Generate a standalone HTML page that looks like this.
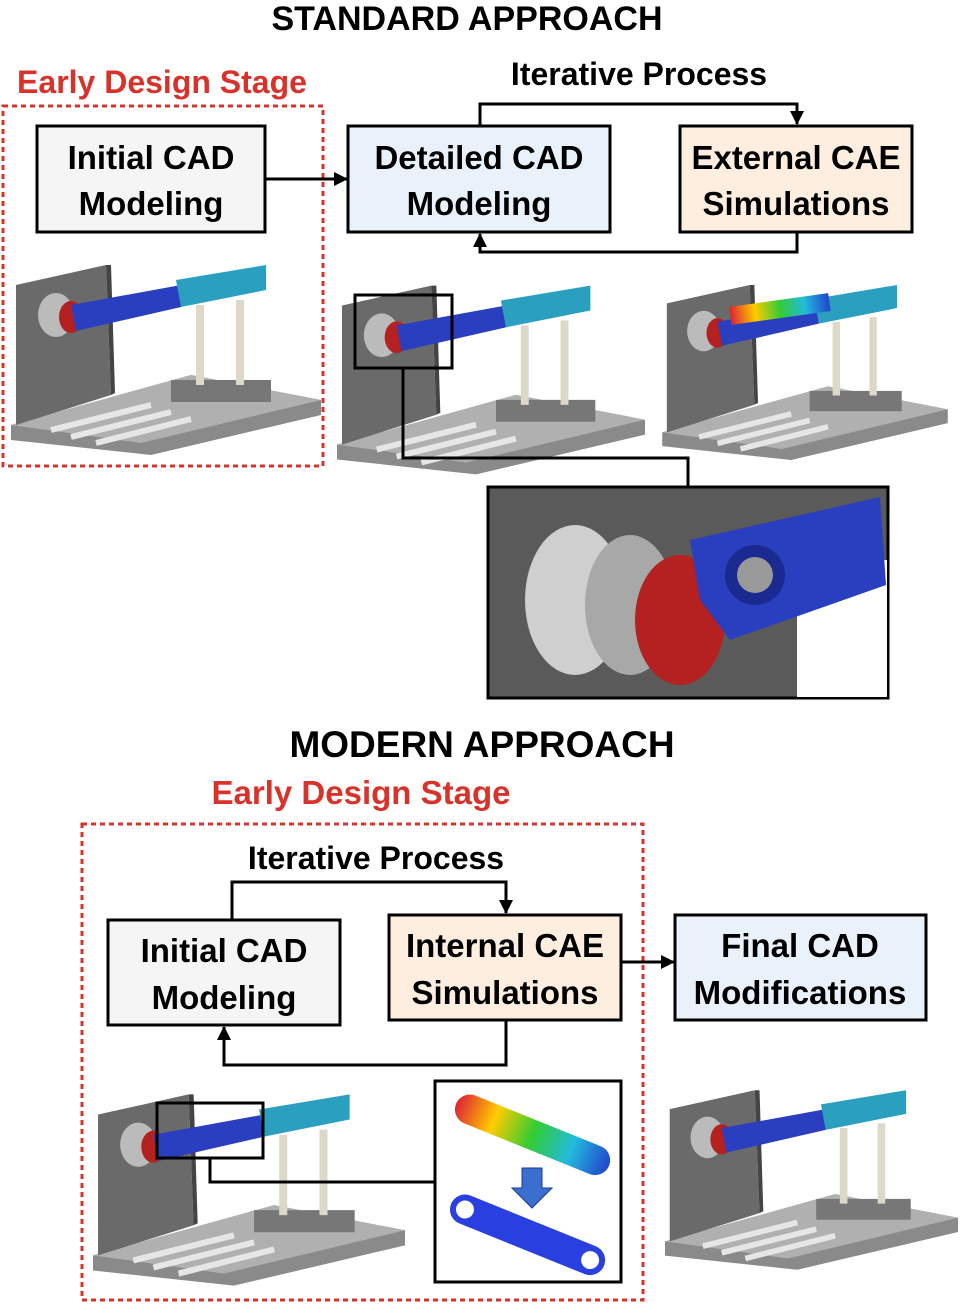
<!DOCTYPE html>
<html><head><meta charset="utf-8"><style>
body{margin:0;background:#fff;}
svg text{font-family:"Liberation Sans",sans-serif;font-weight:bold;}
</style></head><body>
<svg width="965" height="1303" viewBox="0 0 965 1303" xmlns="http://www.w3.org/2000/svg">
<defs>
<marker id="ar" markerWidth="8" markerHeight="8" refX="7" refY="4" orient="auto" markerUnits="userSpaceOnUse"><path d="M0,0 L8,4 L0,8 z" fill="#000"/></marker>
<marker id="ar2" markerWidth="14" markerHeight="14" refX="13" refY="7" orient="auto" markerUnits="userSpaceOnUse"><path d="M0,0 L14,7 L0,14 z" fill="#000"/></marker>
<linearGradient id="rb" x1="0" y1="0" x2="1" y2="0"><stop offset="0" stop-color="#d23"/><stop offset="0.25" stop-color="#fc0"/><stop offset="0.5" stop-color="#3c3"/><stop offset="0.75" stop-color="#2bd"/><stop offset="1" stop-color="#24c"/></linearGradient>
<symbol id="rig" viewBox="0 0 310 190">
<polygon points="0,160 180,110 310,135 310,150 140,190 0,175" fill="#8a8a8a"/>
<polygon points="0,160 180,110 310,135 130,178" fill="#b0b0b0"/>
<g stroke="#e6e6e6" stroke-width="6"><line x1="40" y1="165" x2="140" y2="140"/><line x1="60" y1="172" x2="160" y2="147"/><line x1="85" y1="178" x2="180" y2="154"/></g>
<polygon points="5,20 95,0 100,130 5,160" fill="#6a6a6a"/>
<polygon points="95,0 100,0 104,128 100,130" fill="#444"/>
<rect x="160" y="115" width="100" height="22" fill="#777"/>
<rect x="185" y="40" width="8" height="80" fill="#ddd8c8"/><rect x="225" y="35" width="8" height="85" fill="#ddd8c8"/>
<ellipse cx="45" cy="50" rx="18" ry="22" fill="#bbb"/>
<ellipse cx="60" cy="52" rx="12" ry="16" fill="#b52020"/>
<polygon points="60,40 170,20 170,42 65,66" fill="#2a3fc0"/>
<polygon points="165,15 255,0 255,25 170,42" fill="#2a9fbf"/>
</symbol>
</defs>

<text x="467" y="30" font-size="34" text-anchor="middle">STANDARD APPROACH</text>
<text x="162" y="93" font-size="32" fill="#d8322a" text-anchor="middle">Early Design Stage</text>
<rect x="3" y="106" width="320" height="360" fill="none" stroke="#d8322a" stroke-width="3" stroke-dasharray="5,4"/>

<text x="639" y="85" font-size="32" text-anchor="middle">Iterative Process</text>
<rect x="37" y="126" width="228" height="106" fill="#f5f5f5" stroke="#000" stroke-width="3"/>
<text x="151" y="169" font-size="33" text-anchor="middle">Initial CAD</text>
<text x="151" y="215" font-size="33" text-anchor="middle">Modeling</text>
<rect x="348" y="126" width="262" height="106" fill="#e9f1fb" stroke="#000" stroke-width="3"/>
<text x="479" y="169" font-size="33" text-anchor="middle">Detailed CAD</text>
<text x="479" y="215" font-size="33" text-anchor="middle">Modeling</text>
<rect x="680" y="126" width="232" height="106" fill="#fdeee0" stroke="#000" stroke-width="3"/>
<text x="796" y="169" font-size="33" text-anchor="middle">External CAE</text>
<text x="796" y="215" font-size="33" text-anchor="middle">Simulations</text>
<line x1="265" y1="179" x2="347" y2="179" stroke="#000" stroke-width="3" marker-end="url(#ar2)"/>
<polyline points="480,126 480,104 797,104 797,124" fill="none" stroke="#000" stroke-width="3" marker-end="url(#ar2)"/>
<polyline points="797,232 797,252 480,252 480,234" fill="none" stroke="#000" stroke-width="3" marker-end="url(#ar2)"/>

<use href="#rig" x="10" y="265" width="312" height="190"/>
<use href="#rig" x="337" y="285" width="308" height="190"/>
<use href="#rig" x="652" y="285" width="306" height="175"/>
<rect x="730" y="300" width="100" height="18" fill="url(#rb)" transform="rotate(-8 780 310)"/>
<rect x="355" y="295" width="97" height="73" fill="none" stroke="#000" stroke-width="3"/>
<polyline points="403,368 403,458 688,458 688,487" fill="none" stroke="#000" stroke-width="3"/>

<rect x="488" y="487" width="400" height="211" fill="#5a5a5a" stroke="#000" stroke-width="3"/>
<rect x="797" y="560" width="90" height="137" fill="#fff"/>
<ellipse cx="575" cy="600" rx="50" ry="75" fill="#cfcfcf"/>
<ellipse cx="630" cy="605" rx="45" ry="70" fill="#a8a8a8"/>
<ellipse cx="680" cy="620" rx="45" ry="65" fill="#b52020"/>
<polygon points="690,540 880,497 886,585 730,640 700,600" fill="#2a3fc0"/>
<circle cx="755" cy="575" r="30" fill="#1a2a90"/><circle cx="755" cy="575" r="18" fill="#999"/>

<text x="482" y="757" font-size="37" text-anchor="middle">MODERN APPROACH</text>
<text x="361" y="804" font-size="33" fill="#d8322a" text-anchor="middle">Early Design Stage</text>
<rect x="82" y="824" width="561" height="476" fill="none" stroke="#d8322a" stroke-width="3" stroke-dasharray="5,4"/>
<text x="376" y="869" font-size="32" text-anchor="middle">Iterative Process</text>

<rect x="108" y="920" width="232" height="105" fill="#f5f5f5" stroke="#000" stroke-width="3"/>
<text x="224" y="962" font-size="33" text-anchor="middle">Initial CAD</text>
<text x="224" y="1009" font-size="33" text-anchor="middle">Modeling</text>
<rect x="389" y="915" width="232" height="105" fill="#fdeee0" stroke="#000" stroke-width="3"/>
<text x="505" y="957" font-size="33" text-anchor="middle">Internal CAE</text>
<text x="505" y="1004" font-size="33" text-anchor="middle">Simulations</text>
<rect x="675" y="915" width="251" height="105" fill="#e9f1fb" stroke="#000" stroke-width="3"/>
<text x="800" y="957" font-size="33" text-anchor="middle">Final CAD</text>
<text x="800" y="1004" font-size="33" text-anchor="middle">Modifications</text>
<polyline points="232,920 232,882 506,882 506,913" fill="none" stroke="#000" stroke-width="3" marker-end="url(#ar2)"/>
<polyline points="506,1020 506,1065 224,1065 224,1027" fill="none" stroke="#000" stroke-width="3" marker-end="url(#ar2)"/>
<line x1="621" y1="962" x2="674" y2="962" stroke="#000" stroke-width="3" marker-end="url(#ar2)"/>

<use href="#rig" x="93" y="1090" width="312" height="200"/>
<use href="#rig" x="665" y="1090" width="293" height="180"/>
<rect x="157" y="1103" width="106" height="55" fill="none" stroke="#000" stroke-width="3"/>
<polyline points="210,1158 210,1182 435,1182" fill="none" stroke="#000" stroke-width="3"/>
<rect x="435" y="1081" width="186" height="201" fill="#fff" stroke="#000" stroke-width="3"/>
<g transform="rotate(22 533 1135)"><rect x="450" y="1120" width="165" height="30" rx="15" fill="url(#rb)"/></g>
<polygon points="522,1168 542,1168 542,1188 552,1188 532,1208 512,1188 522,1188" fill="#3a6fd0" stroke="#1a3a90"/>
<g transform="rotate(22 528 1235)"><rect x="445" y="1220" width="165" height="30" rx="15" fill="#2a3fe0"/><circle cx="460" cy="1235" r="9" fill="#fff"/><circle cx="595" cy="1235" r="9" fill="#fff"/></g>
</svg>
</body></html>
